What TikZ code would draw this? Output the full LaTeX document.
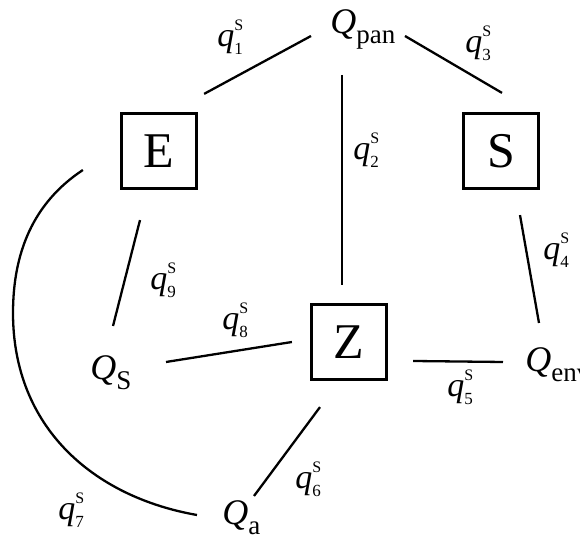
\documentclass[tikz,border=0pt]{standalone}
\usepackage{fontspec}
\setmainfont{Liberation Serif}
\usetikzlibrary{positioning}
% heat quantity with upright subscript
\newcommand{\Qsub}[1]{\textit{Q}\raisebox{-5pt}{\fontsize{13.5}{14}\selectfont #1}}
% heat flow label q^S_n
\newcommand{\qS}[1]{\textit{q}\rlap{\raisebox{8pt}{\fontsize{8}{9}\selectfont S}}\raisebox{-4pt}{\fontsize{8.5}{9}\selectfont #1}}

\begin{document}
\begin{tikzpicture}[
  x=0.5pt, y=-0.5pt,
  box/.style={draw, line width=1.6pt, minimum size=37.5pt, inner sep=0pt,
  font=\fontsize{25}{30}\selectfont},
  qty/.style={anchor=base west, inner sep=0pt, font=\fontsize{18}{22}\selectfont},
  flow/.style={anchor=base west, inner sep=0pt, font=\fontsize{17}{20}\selectfont},
  link/.style={line width=1.15pt}
]
\useasboundingbox (0,0) rectangle (580,539);

% components
\node[box] (E) at (159,151) {E};
\node[box] (S) at (501,151) {S};
\node[box] (Z) at (349,342) {Z};

% heat quantities
\node[qty] (Qpan) at (330,34) {\Qsub{pan}};
\node[qty] (QS) at (90,380) {\Qsub{S}};
\node[qty] (Qenv) at (525,372) {\Qsub{env}};
\node[qty] (Qa) at (222,525) {\Qsub{a}};
\coordinate (arcleft) at (13,313);

% connections
\draw[link] ([shift={(6,-18)}]E.north east) -- ([shift={(-19,2)}]Qpan.base west);
\draw[link] ([shift={(12,41)}]Qpan.base west) -- ([shift={(-7,-18)}]Z.north);
\draw[link] ([shift={(75,2)}]Qpan.base west) -- ([shift={(1,-19)}]S.north);
\draw[link] ([shift={(19,25)}]S.south) -- ([shift={(14,-49)}]Qenv.base west);
\draw[link] ([shift={(25,19)}]Z.east) -- ([shift={(-22,-10)}]Qenv.base west);
\draw[link] ([shift={(76,-18)}]QS.base west) -- ([shift={(-18,0)}]Z.west);
\draw[link] ([shift={(-19,30)}]E.south) -- ([shift={(23,-54)}]QS.base west);
\draw[link] ([shift={(-29,26)}]Z.south) -- ([shift={(32,-29)}]Qa.base west);
\draw[link] ([shift={(-37,19)}]E.west) .. controls +(-50,33) and +(0,-60) .. (arcleft)
  .. controls +(0,115) and +(-103,-18) .. ([shift={(-25,-10)}]Qa.base west);

% flow labels
\node[flow] (q1) at (217,47) {\qS{1}};
\node[flow] (q2) at (353,160) {\qS{2}};
\node[flow] (q3) at (465,53) {\qS{3}};
\node[flow] (q4) at (543,260) {\qS{4}};
\node[flow] (q5) at (447,397) {\qS{5}};
\node[flow] (q6) at (295,489) {\qS{6}};
\node[flow] (q7) at (58,520) {\qS{7}};
\node[flow] (q8) at (222,330) {\qS{8}};
\node[flow] (q9) at (150,290) {\qS{9}};
\end{tikzpicture}
\end{document}
